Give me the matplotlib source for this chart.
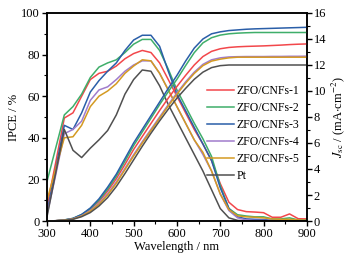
import matplotlib
matplotlib.use("Agg")
import matplotlib.pyplot as plt
from matplotlib.ticker import MultipleLocator

plt.rcParams['font.family'] = ['Liberation Serif', 'DejaVu Serif']
plt.rcParams['mathtext.fontset'] = 'stix'

# --- data ---
wl = [300, 320, 340, 360, 380, 400, 420, 440, 460, 480, 500, 520, 540, 560,
      580, 600, 620, 640, 660, 680, 700, 720, 740, 760, 780, 800, 820, 840,
      860, 880, 900]

labels = ['ZFO/CNFs-1', 'ZFO/CNFs-2', 'ZFO/CNFs-3', 'ZFO/CNFs-4', 'ZFO/CNFs-5', 'Pt']
colors = ['#f2474b', '#3fae6a', '#2a5ea8', '#a07ccc', '#d49a22', '#505050']

# IPCE / %
ipce_1 = [7, 28, 49.5, 52, 60, 68, 71, 72, 74.5, 78, 80.5, 82, 81, 76,
          68, 60, 52, 44, 37, 29, 18, 9, 5.5, 4.5, 4.3, 4, 1.8, 1.8, 3.4, 1.1, 1.0]
ipce_2 = [19, 35, 51, 55, 61, 69, 74, 76, 77.5, 81, 85, 87.3, 87.3, 82,
          73, 63, 55, 47, 39.5, 31, 17, 6, 3, 2.4, 2, 2, 1, 1, 1.5, 0.5, 0.5]
ipce_3 = [4, 25, 46, 44, 52, 62, 67.5, 72, 76, 82, 87, 89.3, 89.3, 84,
          72, 61, 53, 45, 37, 29, 16, 6, 2, 1, 0.8, 0.7, 0.3, 0.3, 0.4, 0.2, 0.2]
ipce_4 = [3, 22, 42, 44, 48, 58, 63, 64.5, 68, 72, 75, 77, 77, 71,
          63, 55, 47, 39, 32, 24, 13, 5, 1.5, 0.5, 0.3, 0.3, 0.2, 0.2, 0.2, 0.2, 0.2]
ipce_5 = [10, 25, 40, 40.5, 46, 55, 60, 62.5, 66, 71, 74.5, 77.5, 77, 71,
          63, 55, 47, 39, 33, 24, 13, 5.5, 2.5, 2, 1.8, 1.5, 1, 0.8, 0.8, 0.5, 0.4]
ipce_pt = [2, 23, 44, 34, 30.5, 35, 39, 43.5, 51, 61, 68, 72.6, 72, 65,
           56, 48, 40, 32, 24, 15, 6, 1.5, 0.3, 0, 0, 0, 0, 0, 0, 0, 0]

# integrated Jsc / (mA cm-2)
jsc_1 = [0, 0.02, 0.07, 0.18, 0.45, 0.9, 1.5, 2.3, 3.25, 4.35, 5.5, 6.5, 7.5, 8.5,
         9.45, 10.35, 11.2, 12.0, 12.65, 13.05, 13.25, 13.35, 13.4, 13.43, 13.45,
         13.47, 13.5, 13.53, 13.57, 13.6, 13.62]
jsc_2 = [0, 0.02, 0.08, 0.2, 0.5, 0.95, 1.6, 2.45, 3.45, 4.6, 5.8, 6.85, 7.9, 8.95,
         9.95, 10.9, 11.95, 12.95, 13.7, 14.1, 14.3, 14.4, 14.45, 14.48, 14.5,
         14.5, 14.5, 14.5, 14.5, 14.5, 14.5]
jsc_3 = [0, 0.02, 0.08, 0.2, 0.5, 1.0, 1.7, 2.6, 3.6, 4.8, 6.0, 7.05, 8.1, 9.15,
         10.2, 11.2, 12.3, 13.3, 14.0, 14.4, 14.55, 14.65, 14.7, 14.75, 14.78,
         14.8, 14.82, 14.84, 14.86, 14.88, 14.9]
jsc_4 = [0, 0.02, 0.06, 0.16, 0.4, 0.8, 1.35, 2.1, 3.0, 4.05, 5.1, 6.1, 7.05, 8.0,
         8.95, 9.85, 10.7, 11.45, 12.05, 12.4, 12.55, 12.62, 12.64, 12.65, 12.65,
         12.65, 12.66, 12.66, 12.67, 12.67, 12.68]
jsc_5 = [0, 0.02, 0.06, 0.15, 0.38, 0.75, 1.28, 2.0, 2.9, 3.95, 5.0, 6.0, 6.95, 7.9,
         8.85, 9.75, 10.6, 11.35, 11.95, 12.3, 12.45, 12.55, 12.6, 12.6, 12.6,
         12.6, 12.6, 12.6, 12.6, 12.6, 12.6]
jsc_pt = [0, 0.02, 0.05, 0.13, 0.33, 0.65, 1.15, 1.8, 2.65, 3.65, 4.7, 5.75, 6.75, 7.7,
          8.6, 9.45, 10.2, 10.9, 11.45, 11.8, 11.95, 12.0, 12.0, 12.0, 12.0,
          12.0, 12.0, 12.0, 12.0, 12.0, 12.0]

ipce_all = [ipce_1, ipce_2, ipce_3, ipce_4, ipce_5, ipce_pt]
jsc_all = [jsc_1, jsc_2, jsc_3, jsc_4, jsc_5, jsc_pt]

# --- plot ---
fig = plt.figure(figsize=(3.56, 2.60), dpi=100)
ax = fig.add_axes([0.132, 0.15, 0.730, 0.80])
ax2 = ax.twinx()

handles = []
for y, c, lab in zip(ipce_all, colors, labels):
    h, = ax.plot(wl, y, color=c, lw=1.1, label=lab)
    handles.append(h)
for y, c in zip(jsc_all, colors):
    ax2.plot(wl, y, color=c, lw=1.1)

ax.set_xlim(300, 900)
ax.set_ylim(0, 100)
ax2.set_ylim(0, 16)

ax.xaxis.set_major_locator(MultipleLocator(100))
ax.xaxis.set_minor_locator(MultipleLocator(50))
ax.yaxis.set_major_locator(MultipleLocator(20))
ax.yaxis.set_minor_locator(MultipleLocator(10))
ax2.yaxis.set_major_locator(MultipleLocator(2))
ax2.yaxis.set_minor_locator(MultipleLocator(1))

for a in (ax, ax2):
    a.tick_params(which='major', direction='out', length=3.5, width=1.0, labelsize=9, pad=1.5)
    a.tick_params(which='minor', direction='out', length=2, width=0.8)
    for sp in a.spines.values():
        sp.set_linewidth(1.1)

ax.set_xlabel('Wavelength / nm', fontsize=9, labelpad=1)
ax.set_ylabel('IPCE / %', fontsize=9, labelpad=1)
ax2.set_ylabel(r'$J_{\rm sc}$ / (mA$\cdot$cm$^{-2}$)', fontsize=9, labelpad=2)

ax2.legend(handles=handles, loc='upper right', bbox_to_anchor=(0.99, 0.675),
           frameon=False, fontsize=8.5, borderaxespad=0, labelspacing=0.42,
           handlelength=2.3, handletextpad=0.2)

fig.savefig('out.png', dpi=100)
